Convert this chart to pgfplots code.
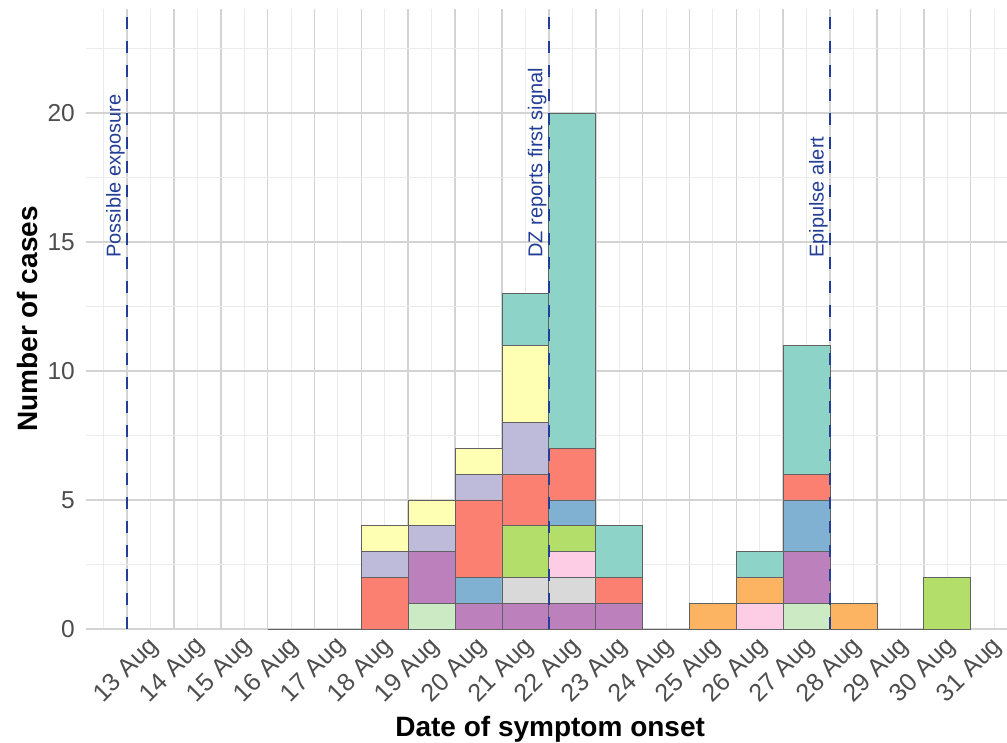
\documentclass[border=0pt]{standalone}
\usepackage{pgfplots}
\pgfplotsset{compat=1.18}
\usepackage{pgfplotstable}
\usepackage{fontspec}
\setmainfont{Liberation Sans}
\definecolor{cTe}{HTML}{8DD3C7}
\definecolor{cYe}{HTML}{FFFFB3}
\definecolor{cLa}{HTML}{BEBADA}
\definecolor{cSa}{HTML}{FB8072}
\definecolor{cBl}{HTML}{80B1D3}
\definecolor{cOr}{HTML}{FDB462}
\definecolor{cGn}{HTML}{B3DE69}
\definecolor{cPk}{HTML}{FCCDE5}
\definecolor{cGr}{HTML}{D9D9D9}
\definecolor{cPu}{HTML}{BC80BD}
\definecolor{cLg}{HTML}{CCEBC5}
\definecolor{vline}{RGB}{35,62,150}
\definecolor{gmaj}{RGB}{211,211,211}
\definecolor{gmin}{RGB}{235,235,235}
\definecolor{tick}{HTML}{4D4D4D}
\pgfplotstableread{
x    lg pu gr pk gn or bl sa la ye te
16.5 0  0  0  0  0  0  0  0  0  0  0
17.5 0  0  0  0  0  0  0  0  0  0  0
18.5 0  0  0  0  0  0  0  2  1  1  0
19.5 1  2  0  0  0  0  0  0  1  1  0
20.5 0  1  0  0  0  0  1  3  1  1  0
21.5 0  1  1  0  2  0  0  2  2  3  2
22.5 0  1  1  1  1  0  1  2  0  0  13
23.5 0  1  0  0  0  0  0  1  0  0  2
24.5 0  0  0  0  0  0  0  0  0  0  0
25.5 0  0  0  0  0  1  0  0  0  0  0
26.5 0  0  0  1  0  1  0  0  0  0  1
27.5 1  2  0  0  0  0  2  1  0  0  5
28.5 0  0  0  0  0  1  0  0  0  0  0
29.5 0  0  0  0  0  0  0  0  0  0  0
30.5 0  0  0  0  2  0  0  0  0  0  0
}\cases
\begin{document}
\begin{tikzpicture}
\path[use as bounding box] (-86pt,-113pt) rectangle (921pt,629pt);
\begin{axis}[
  at={(0,0)}, anchor=south west,
  scale only axis, width=921pt, height=620pt,
  xmin=12.125, xmax=31.775, ymin=0, ymax=24.03,
  ybar stacked, bar width=1,
  axis line style={draw=none},
  tick style={draw=none},
  xtick={13,...,31},
  xticklabels={13 Aug,14 Aug,15 Aug,16 Aug,17 Aug,18 Aug,19 Aug,20 Aug,21 Aug,22 Aug,23 Aug,24 Aug,25 Aug,26 Aug,27 Aug,28 Aug,29 Aug,30 Aug,31 Aug},
  ytick={0,5,10,15,20},
  minor xtick={12.5,13.5,...,31.5},
  minor ytick={2.5,7.5,12.5,17.5,22.5},
  grid=both,
  major grid style={draw=gmaj, line width=1.6pt},
  minor grid style={draw=gmin, line width=0.9pt},
  /pgf/number format/assume math mode=true,
  xticklabel style={font=\fontsize{25}{29}\selectfont, text=tick, rotate=45, anchor=north east, inner sep=0pt, yshift=-18pt, xshift=10pt},
  yticklabel style={font=\fontsize{24.5}{28}\selectfont, text=tick, anchor=east, inner sep=0pt, xshift=-11pt},
  xlabel={Date of symptom onset},
  ylabel={Number of cases},
  label style={font=\bfseries\fontsize{28}{32}\selectfont},
  xlabel style={at={(axis description cs:0.504,-0.162)}, anchor=center},
  ylabel style={at={(axis description cs:-0.063,0.5)}, anchor=center},
  every axis plot/.append style={draw=black!62, line width=0.7pt},
  clip=false,
]
\addplot[fill=cLg] table[x=x,y=lg]{\cases};
\addplot[fill=cPu] table[x=x,y=pu]{\cases};
\addplot[fill=cGr] table[x=x,y=gr]{\cases};
\addplot[fill=cPk] table[x=x,y=pk]{\cases};
\addplot[fill=cGn] table[x=x,y=gn]{\cases};
\addplot[fill=cOr] table[x=x,y=or]{\cases};
\addplot[fill=cBl] table[x=x,y=bl]{\cases};
\addplot[fill=cSa] table[x=x,y=sa]{\cases};
\addplot[fill=cLa] table[x=x,y=la]{\cases};
\addplot[fill=cYe] table[x=x,y=ye]{\cases};
\addplot[fill=cTe] table[x=x,y=te]{\cases};
\end{axis}
\begin{axis}[
  at={(0,0)}, anchor=south west,
  scale only axis, width=921pt, height=620pt,
  xmin=12.125, xmax=31.775, ymin=0, ymax=24.03,
  hide axis, clip=false,
]
\addplot[draw=black!62, line width=0.9pt] coordinates {(16,0) (18,0)};
\addplot[draw=black!62, line width=0.9pt] coordinates {(24,0) (25,0)};
\addplot[draw=black!62, line width=0.9pt] coordinates {(29,0) (30,0)};
\addplot[vline, line width=2.6pt, dash pattern=on 12pt off 12pt] coordinates {(13,0) (13,24.03)};
\addplot[vline, line width=2.6pt, dash pattern=on 12pt off 12pt] coordinates {(22,0) (22,24.03)};
\addplot[vline, line width=2.6pt, dash pattern=on 12pt off 12pt] coordinates {(28,0) (28,24.03)};
\node[rotate=90, anchor=south west, inner sep=2pt, text=vline, font=\fontsize{20}{24}\selectfont] at (axis cs:13,14.3) {Possible exposure};
\node[rotate=90, anchor=south west, inner sep=2pt, text=vline, font=\fontsize{20}{24}\selectfont] at (axis cs:22,14.3) {DZ reports first signal};
\node[rotate=90, anchor=south west, inner sep=2pt, text=vline, font=\fontsize{20}{24}\selectfont] at (axis cs:28,14.3) {Epipulse alert};
\end{axis}
\end{tikzpicture}
\end{document}
